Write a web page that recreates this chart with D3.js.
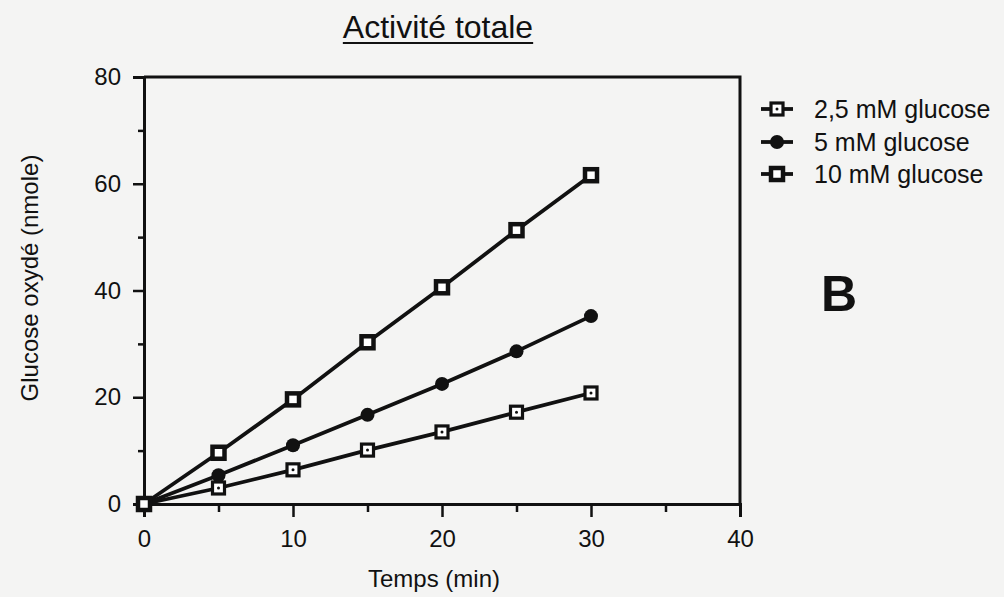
<!DOCTYPE html>
<html>
<head>
<meta charset="utf-8">
<script src="https://cdn.jsdelivr.net/npm/d3@7"></script>
<style>
  html, body { margin: 0; padding: 0; background: #f4f4f3; }
  svg { display: block; }
  text { font-family: "Liberation Sans", Arial, Helvetica, sans-serif; fill: #111; }
</style>
</head>
<body>
<svg id="chart" width="1004" height="597"></svg>
<script>
// Oxidised glucose over time at three glucose concentrations
const timeMin = [0, 5, 10, 15, 20, 25, 30];
const glucose25 = [0, 3.0, 6.4, 10.1, 13.5, 17.2, 20.8];
const glucose5 = [0, 5.4, 11.0, 16.7, 22.5, 28.6, 35.2];
const glucose10 = [0, 9.6, 19.6, 30.3, 40.6, 51.3, 61.6];
const seriesNames = ["2,5 mM glucose", "5 mM glucose", "10 mM glucose"];
const xTicks = [0, 10, 20, 30, 40];
const yTicks = [0, 20, 40, 60, 80];

const ink = "#111";
const svg = d3.select("#chart");

const x = d3.scaleLinear().domain([0, 40]).range([144, 740]);
const y = d3.scaleLinear().domain([0, 80]).range([504, 77]);

// frame: top and right edges
svg.append("path")
  .attr("d", `M${x(0)},${y(80)} H${x(40)} V${y(0)}`)
  .attr("fill", "none").attr("stroke", ink).attr("stroke-width", 3);

// x axis: major labelled ticks plus minor ticks every 5 min
const xAxis = svg.append("g").attr("transform", `translate(0,${y(0)})`);
xAxis.call(d3.axisBottom(x).tickValues(xTicks).tickSize(13).tickPadding(13).tickFormat(d3.format("d")));
xAxis.append("g").call(d3.axisBottom(x).tickValues([5, 15, 25, 35]).tickSize(8).tickFormat(""))
  .select(".domain").remove();

// y axis: major labelled ticks plus minor ticks every 10 nmole
const yAxis = svg.append("g").attr("transform", `translate(${x(0)},0)`);
yAxis.call(d3.axisLeft(y).tickValues(yTicks).tickSize(11).tickPadding(12).tickFormat(d3.format("d")));
yAxis.append("g").call(d3.axisLeft(y).tickValues([10, 30, 50, 70]).tickSize(6).tickFormat(""))
  .select(".domain").remove();

svg.selectAll(".domain").attr("stroke", ink).attr("stroke-width", 3);
svg.selectAll(".tick line").attr("stroke", ink).attr("stroke-width", 2.5);
svg.selectAll(".tick text").style("font-size", "24px").attr("fill", ink);

// series lines and markers
const line = d3.line().x((d, i) => x(timeMin[i])).y(d => y(d));
const series = [
  { name: seriesNames[0], values: glucose25, marker: "squareDot" },
  { name: seriesNames[1], values: glucose5, marker: "dot" },
  { name: seriesNames[2], values: glucose10, marker: "square" }
];

function drawMarker(g, kind, cx, cy) {
  if (kind === "dot") {
    g.append("circle").attr("cx", cx).attr("cy", cy).attr("r", 7).attr("fill", ink);
  } else if (kind === "square") {
    g.append("rect").attr("x", cx - 6).attr("y", cy - 6).attr("width", 12).attr("height", 12)
      .attr("fill", "#fff").attr("stroke", ink).attr("stroke-width", 4.5);
  } else {
    g.append("rect").attr("x", cx - 6).attr("y", cy - 6).attr("width", 12).attr("height", 12)
      .attr("fill", "#fff").attr("stroke", ink).attr("stroke-width", 3.2);
    g.append("circle").attr("cx", cx).attr("cy", cy).attr("r", 1.5).attr("fill", ink);
  }
}

const plot = svg.append("g");
series.forEach(s => {
  plot.append("path").attr("d", line(s.values))
    .attr("fill", "none").attr("stroke", ink).attr("stroke-width", 3.8);
});
series.forEach(s => {
  const g = plot.append("g");
  s.values.forEach((v, i) => drawMarker(g, s.marker, x(timeMin[i]), y(v)));
});

// legend
const legendY = [109, 142, 174];
series.forEach((s, i) => {
  const g = svg.append("g").attr("transform", `translate(0,${legendY[i]})`);
  g.append("line").attr("x1", 761).attr("x2", 793).attr("y1", 0).attr("y2", 0)
    .attr("stroke", ink).attr("stroke-width", 3.8);
  drawMarker(g, s.marker, 777, 0);
  g.append("text").attr("x", 814).attr("y", 0).attr("dy", "0.35em")
    .style("font-size", "25px").text(s.name);
});

// title, underlined
const title = svg.append("text").attr("x", 438).attr("y", 38).attr("text-anchor", "middle")
  .style("font-size", "32px").text("Activité totale");
const tb = title.node().getBBox();
svg.append("line").attr("x1", tb.x).attr("x2", tb.x + tb.width).attr("y1", 43).attr("y2", 43)
  .attr("stroke", ink).attr("stroke-width", 2.2);

// axis titles
svg.append("text").attr("x", 434).attr("y", 587).attr("text-anchor", "middle")
  .style("font-size", "24px").text("Temps (min)");
svg.append("text").attr("transform", "translate(38,278) rotate(-90)").attr("text-anchor", "middle")
  .style("font-size", "24px").text("Glucose oxydé (nmole)");

// panel letter
svg.append("text").attr("x", 821).attr("y", 311)
  .style("font-size", "50px").style("font-weight", "bold").text("B");
</script>
</body>
</html>
